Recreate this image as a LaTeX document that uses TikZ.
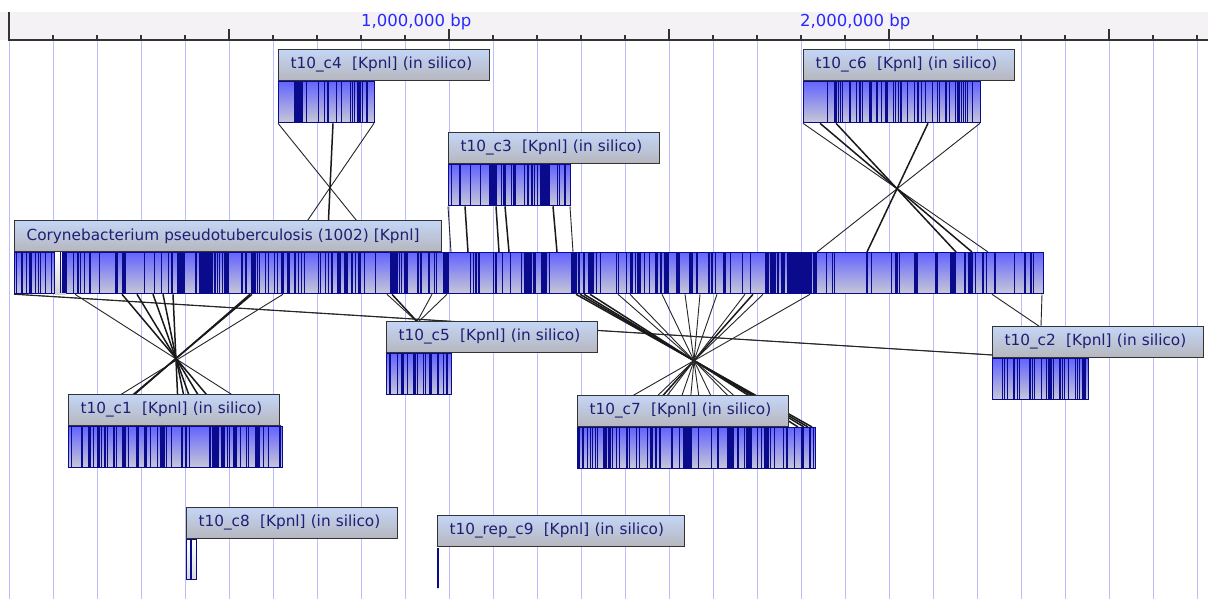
\documentclass[tikz,border=0pt]{standalone}
\usepackage{fontspec}
\setmainfont{DejaVu Sans}
\usetikzlibrary{positioning}

\definecolor{navy}{RGB}{10,10,140}
\definecolor{barTop}{RGB}{100,100,255}
\definecolor{barBot}{RGB}{200,200,214}
\definecolor{lblTop}{RGB}{196,214,246}
\definecolor{lblBot}{RGB}{182,182,190}
\definecolor{lblText}{RGB}{30,30,115}
\definecolor{gridLine}{RGB}{188,188,255}
\definecolor{rulerBg}{RGB}{244,242,245}
\definecolor{tickText}{RGB}{40,40,255}

% random cut marks inside a bar: name, width, count, seed
\newcommand{\stripes}[4]{%
  \begin{scope}[shift={(#1.north west)}]
    \pgfmathsetseed{#4}
    \foreach \i in {1,...,#3} {
      \pgfmathsetmacro{\sx}{1.5+rnd*(#2-3)}
      \pgfmathsetmacro{\sw}{rnd<0.12 ? 2+3*rnd : 1.1}
      \draw[stripe, line width=\sw pt] (\sx,0) -- (\sx,41);
    }
  \end{scope}}

\begin{document}
\begin{tikzpicture}[x=1pt, y=-1pt,
    bar/.style={draw=navy, line width=1.3pt, top color=barTop, bottom color=barBot, inner sep=0pt, minimum height=41pt, anchor=north west},
    lbl/.style={draw=black!80, line width=1.2pt, top color=lblTop, bottom color=lblBot, minimum height=31pt, text width=187pt, inner xsep=12pt, inner ysep=0pt, align=left, text=lblText, font=\fontsize{15.3}{17}\selectfont},
    stripe/.style={navy, line width=1.1pt},
    link/.style={black!85, line width=0.9pt},
    heavy/.style={black!90, line width=1.5pt},
    gridline/.style={gridLine, line width=1pt},
    axis/.style={black!80, line width=1.2pt},
    ticklabel/.style={text=tickText, inner sep=0pt, anchor=base west, font=\fontsize{16.5}{18}\selectfont}]

    \useasboundingbox[fill=white] (0,0) rectangle (1208,599);

    % ruler
    \fill[rulerBg] (0,12) rectangle (1208,40);
    \foreach \k in {0,...,27} \draw[gridline] (9+44*\k,40) -- (9+44*\k,599);
    \draw[axis] (9,12) -- (9,40) -- (1208,40);
    \foreach \k in {1,...,27} \draw[axis] (9+44*\k,35) -- (9+44*\k,40);
    \foreach \k in {1,...,5} \draw[axis] (9+220*\k,29) -- (9+220*\k,40);
    \node[ticklabel] (mb1) at (361,27) {1,000,000 bp};
    \node[ticklabel] (mb2) at (800,27) {2,000,000 bp};

    % bars
    \node[bar, minimum width=1029pt] (main) at (14,252) {};
    \node[bar, minimum width=96pt] (c4bar) at (278,81) {};
    \node[bar, minimum width=177pt] (c6bar) at (803,81) {};
    \node[bar, minimum width=122pt] (c3bar) at (448,164) {};
    \node[bar, minimum width=65pt] (c5bar) at (386,353) {};
    \node[bar, minimum width=96pt] (c2bar) at (992,358) {};
    \node[bar, minimum width=214pt] (c1bar) at (68,426) {};
    \node[bar, minimum width=238pt] (c7bar) at (577,427) {};
    \node[bar, minimum width=10pt, minimum height=40pt, top color=white, bottom color=gray!30] (c8bar) at (186,539) {};
    \node[bar, line width=2pt, minimum width=0pt, minimum height=40pt] (c9bar) at (437,547) {};

    % cut marks
    \shade[top color=white, bottom color=gray!35] ([xshift=41pt]main.north west) rectangle ([xshift=52pt]main.south west);
    \stripes{main}{1029}{250}{11}
    \foreach \a/\b in {186/199, 774/798, 376/384} \fill[navy] ([xshift=\a pt]main.north west) rectangle ([xshift=\b pt]main.south west);
    \stripes{c4bar}{96}{24}{4}
    \stripes{c6bar}{177}{44}{6}
    \stripes{c3bar}{122}{28}{3}
    \fill[navy] ([xshift=41pt]c3bar.north west) rectangle ([xshift=49pt]c3bar.south west);
    \stripes{c5bar}{65}{18}{5}
    \stripes{c2bar}{96}{26}{2}
    \stripes{c1bar}{214}{58}{1}
    \stripes{c7bar}{238}{72}{7}
    \draw[stripe] ([xshift=5pt]c8bar.north west) -- ([xshift=5pt]c8bar.south west);

    % c4
    \foreach \a/\b in {0/368, 96/272} \draw[link] ([xshift=\a pt]c4bar.south west) -- ([xshift=\b pt]main.north west);
    \draw[heavy] ([xshift=55pt]c4bar.south west) -- ([xshift=313pt]main.north west);
    % c6
    \foreach \a/\b in {0/974, 177/803} \draw[link] ([xshift=\a pt]c6bar.south west) -- ([xshift=\b pt]main.north west);
    \foreach \a/\b in {17/958, 33/942, 125/853} \draw[heavy] ([xshift=\a pt]c6bar.south west) -- ([xshift=\b pt]main.north west);
    % c3
    \foreach \a/\b in {0/437, 122/559} \draw[link] ([xshift=\a pt]c3bar.south west) -- ([xshift=\b pt]main.north west);
    \foreach \a/\b in {17/454, 48/485, 57/495, 105/543} \draw[heavy] ([xshift=\a pt]c3bar.south west) -- ([xshift=\b pt]main.north west);
    % c5
    \foreach \a/\b in {373/65, 418/14, 433/0} \draw[link] ([xshift=\a pt]main.south west) -- ([xshift=\b pt]c5bar.north west);
    \draw[heavy] ([xshift=378pt]main.south west) -- ([xshift=60pt]c5bar.north west);
    % c2
    \foreach \a/\b in {978/94, 1028/48, 0/48, 4/50} \draw[link] ([xshift=\a pt]main.south west) -- ([xshift=\b pt]c2bar.north west);
    % c1
    \foreach \a/\b in {61/213, 269/2} \draw[link] ([xshift=\a pt]main.south west) -- ([xshift=\b pt]c1bar.north west);
    \foreach \a/\b in {108/165, 123/149, 139/132, 149/122, 159/111, 236/30, 238/28} \draw[heavy] ([xshift=\a pt]main.south west) -- ([xshift=\b pt]c1bar.north west);
    % c7
    \foreach \a/\b in {562/235, 566/231, 570/227, 576/221, 739/58} \draw[heavy] ([xshift=\a pt]main.south west) -- ([xshift=\b pt]c7bar.north west);
    \foreach \a/\b in {604/193, 616/181, 648/149, 671/126, 686/111, 703/94, 731/66, 749/48, 796/1} \draw[link] ([xshift=\a pt]main.south west) -- ([xshift=\b pt]c7bar.north west);

    % labels
    \node[lbl, text width=403pt, above right=0pt and 0pt of main.north west] (mainlbl) {Corynebacterium pseudotuberculosis (1002) [Kpnl]};
    \node[lbl, above right=0pt and 0pt of c4bar.north west] (c4lbl) {t10\_c4~~[Kpnl] (in silico)};
    \node[lbl, above right=0pt and 0pt of c6bar.north west] (c6lbl) {t10\_c6~~[Kpnl] (in silico)};
    \node[lbl, above right=0pt and 0pt of c3bar.north west] (c3lbl) {t10\_c3~~[Kpnl] (in silico)};
    \node[lbl, above right=0pt and 0pt of c5bar.north west] (c5lbl) {t10\_c5~~[Kpnl] (in silico)};
    \node[lbl, above right=0pt and 0pt of c2bar.north west] (c2lbl) {t10\_c2~~[Kpnl] (in silico)};
    \node[lbl, above right=0pt and 0pt of c1bar.north west] (c1lbl) {t10\_c1~~[Kpnl] (in silico)};
    \node[lbl, above right=0pt and 0pt of c7bar.north west] (c7lbl) {t10\_c7~~[Kpnl] (in silico)};
    \node[lbl, above right=0pt and 0pt of c8bar.north west] (c8lbl) {t10\_c8~~[Kpnl] (in silico)};
    \node[lbl, text width=223pt, above right=0pt and 0pt of c9bar.north west] (c9lbl) {t10\_rep\_c9~~[Kpnl] (in silico)};

\end{tikzpicture}
\end{document}
